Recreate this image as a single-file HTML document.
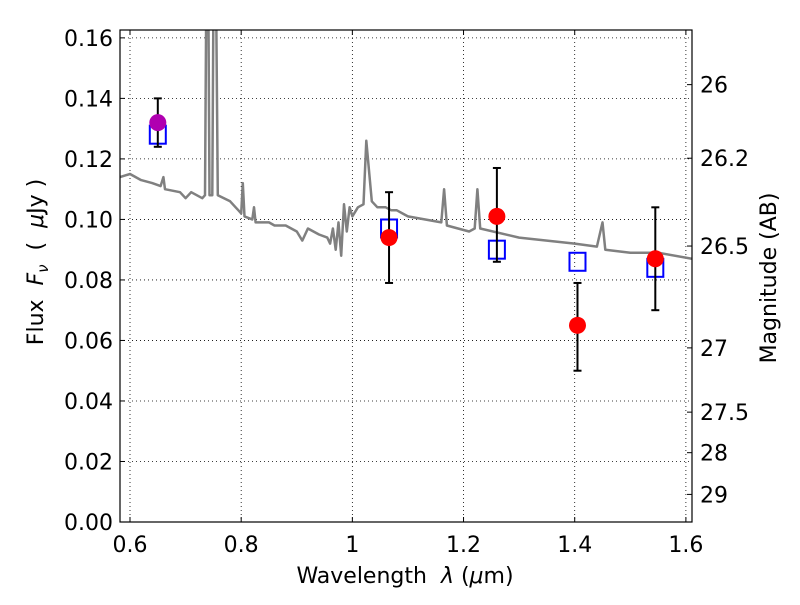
<!DOCTYPE html>
<html><head><meta charset="utf-8"><style>
body{margin:0;background:#fff;}
svg text{font-family:"DejaVu Sans","Liberation Sans",sans-serif;fill:#000;white-space:pre;}
</style></head><body>
<svg id="chart" width="800" height="600" xmlns="http://www.w3.org/2000/svg">
<defs><clipPath id="clip"><rect x="120" y="30" width="572" height="492"/></clipPath></defs>
<rect x="0" y="0" width="800" height="600" fill="#fff"/>
<g id="grid"></g>
<g id="spec" clip-path="url(#clip)"></g>
<g id="marks"></g>
<rect x="120" y="30" width="572" height="492" fill="none" stroke="#000" stroke-width="1.2"/>
<g id="axes"></g>
<text x="405" y="583" font-size="22" text-anchor="middle">Wavelength  <tspan font-style="italic">λ</tspan> (<tspan font-style="italic">μ</tspan>m)</text>
<text transform="translate(43,262) rotate(-90)" font-size="22" text-anchor="middle">Flux  <tspan font-style="italic">F</tspan><tspan font-style="italic" font-size="15" dy="5">ν</tspan><tspan dy="-5">  (  </tspan><tspan font-style="italic">μ</tspan>Jy )</text>
<text transform="translate(776,278) rotate(-90)" font-size="22" text-anchor="middle">Magnitude (AB)</text>
</svg>
<script>
const xTicks=[0.6,0.8,1.0,1.2,1.4,1.6];
const xTickLabels=["0.6","0.8","1","1.2","1.4","1.6"];
const yTicks=[0,0.02,0.04,0.06,0.08,0.10,0.12,0.14,0.16];
const yTickLabels=["0.00","0.02","0.04","0.06","0.08","0.10","0.12","0.14","0.16"];
const magTicks=[26,26.2,26.5,27,27.5,28,29];
const magTickLabels=["26","26.2","26.5","27","27.5","28","29"];
const specLam=[0.582,0.6,0.62,0.64,0.655,0.66,0.663,0.69,0.7,0.71,0.73,0.735,0.737,0.741,0.743,0.748,0.75,0.755,0.758,0.78,0.79,0.795,0.8,0.803,0.806,0.82,0.823,0.826,0.85,0.86,0.88,0.9,0.91,0.92,0.94,0.955,0.96,0.965,0.97,0.975,0.98,0.985,0.99,0.995,1.0,1.01,1.02,1.025,1.035,1.045,1.06,1.07,1.08,1.1,1.13,1.16,1.165,1.17,1.21,1.22,1.225,1.23,1.3,1.4,1.44,1.45,1.455,1.5,1.55,1.611];
const specFlux=[0.114,0.115,0.113,0.112,0.111,0.114,0.11,0.109,0.107,0.109,0.107,0.108,0.17,0.17,0.108,0.108,0.17,0.17,0.108,0.106,0.104,0.103,0.102,0.112,0.101,0.1,0.104,0.099,0.099,0.098,0.098,0.096,0.093,0.097,0.095,0.094,0.092,0.097,0.09,0.099,0.088,0.105,0.096,0.104,0.101,0.104,0.105,0.126,0.106,0.104,0.104,0.103,0.103,0.101,0.1,0.099,0.11,0.098,0.096,0.097,0.11,0.097,0.094,0.092,0.091,0.099,0.09,0.089,0.089,0.087];
const obsLam=[0.65,1.066,1.26,1.405,1.545];
const obsFlux=[0.132,0.094,0.101,0.065,0.087];
const obsLo=[0.124,0.079,0.086,0.050,0.070];
const obsHi=[0.140,0.109,0.117,0.079,0.104];
const obsColor=["#b000b0","red","red","red","red"];
const modelFlux=[0.128,0.097,0.090,0.086,0.084];

const NS="http://www.w3.org/2000/svg";
const X0=120,X1=692,Y0=522,Y1=30,xmin=0.582,xmax=1.611,ymin=0,ymax=0.1626;
const sx=v=>X0+(v-xmin)/(xmax-xmin)*(X1-X0);
const sy=v=>Y0-(v-ymin)/(ymax-ymin)*(Y0-Y1);
const magToFlux=m=>Math.pow(10,(23.9-m)/2.5);
function mk(tag,attrs,parent){const e=document.createElementNS(NS,tag);for(const k in attrs)e.setAttribute(k,attrs[k]);parent.appendChild(e);return e;}
const grid=document.getElementById('grid'),axes=document.getElementById('axes'),spec=document.getElementById('spec'),marks=document.getElementById('marks');
xTicks.forEach((t,i)=>{const x=sx(t);
 const g=mk('line',{x1:x,x2:x,y1:Y1,y2:Y0,stroke:'#000','stroke-width':0.8,'stroke-dasharray':'1,3'},grid);
 
 
 mk('line',{x1:x,x2:x,y1:Y0,y2:Y0-5,stroke:'#000'},axes);
 mk('line',{x1:x,x2:x,y1:Y1,y2:Y1+5,stroke:'#000'},axes);
 const tx=mk('text',{x:x,y:Y0+30,'font-size':22,'text-anchor':'middle'},axes);tx.textContent=xTickLabels[i];
 
 
});
yTicks.forEach((t,i)=>{const y=sy(t);
 const g=mk('line',{x1:X0,x2:X1,y1:y,y2:y,stroke:'#000','stroke-width':0.8,'stroke-dasharray':'1,3'},grid);
 
 
 mk('line',{x1:X0,x2:X0+5,y1:y,y2:y,stroke:'#000'},axes);
 const tx=mk('text',{x:X0-7,y:y+8,'font-size':22,'text-anchor':'end'},axes);tx.textContent=yTickLabels[i];
 
 
});
magTicks.forEach((m,i)=>{const y=sy(magToFlux(m));
 mk('line',{x1:X1,x2:X1-5,y1:y,y2:y,stroke:'#000'},axes);
 const tx=mk('text',{x:X1+8,y:y+8,'font-size':22},axes);tx.textContent=magTickLabels[i];
 
 
});
const pts=specLam.map((l,i)=>sx(l).toFixed(1)+','+sy(specFlux[i]).toFixed(1)).join(' ');
const pl=mk('polyline',{points:pts,fill:'none',stroke:'#808080','stroke-width':2.5,'stroke-linejoin':'round'},spec);


obsLam.forEach((l,i)=>{const x=sx(l);
 const sq=mk('rect',{x:x-8,y:sy(modelFlux[i])-9,width:16,height:18,fill:'none',stroke:'blue','stroke-width':2},marks);
 
 
});
obsLam.forEach((l,i)=>{const x=sx(l);
 const eb=mk('g',{stroke:'#000','stroke-width':2},marks);
 
 
 mk('line',{x1:x,x2:x,y1:sy(obsLo[i]),y2:sy(obsHi[i])},eb);
 mk('line',{x1:x-4,x2:x+4,y1:sy(obsLo[i]),y2:sy(obsLo[i])},eb);
 mk('line',{x1:x-4,x2:x+4,y1:sy(obsHi[i]),y2:sy(obsHi[i])},eb);
 const c=mk('circle',{cx:x,cy:sy(obsFlux[i]),r:8.5,fill:obsColor[i]},marks);
 
 
});
</script>
</body></html>
